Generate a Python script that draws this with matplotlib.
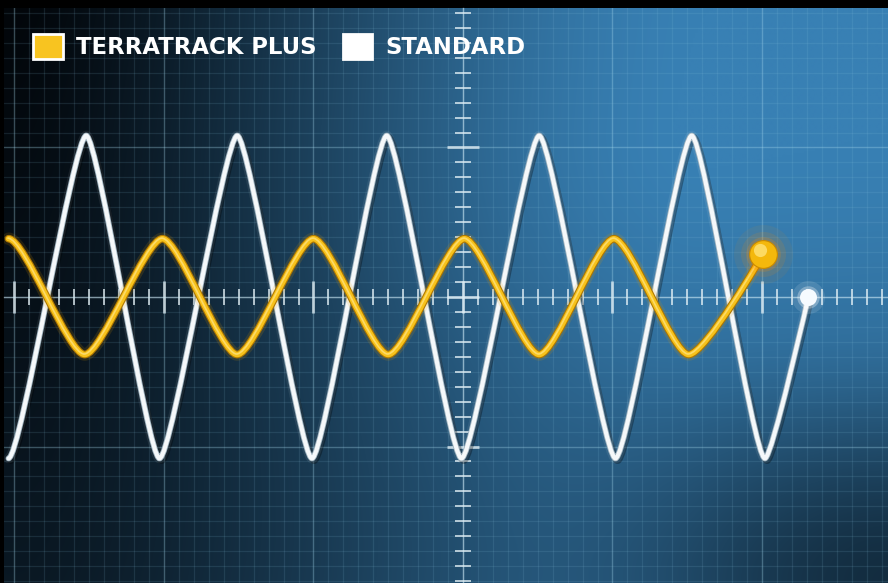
import numpy as np
import matplotlib.pyplot as plt
import matplotlib.patheffects as pe
from matplotlib.path import Path
from matplotlib.patches import PathPatch, Patch
from matplotlib.ticker import MultipleLocator

# Turning points of the two traces, in screen divisions (1 div = one major grid square)
white_x = [-3.04, -2.52, -2.03, -1.51, -1.01, -0.51, -0.01, 0.51, 1.02, 1.53, 2.02]
white_y = [-1.08, 1.08, -1.08, 1.08, -1.08, 1.08, -1.08, 1.08, -1.08, 1.08, -1.08]
white_end = (2.31, 0.0)

yellow_x = [-3.04, -2.53, -2.01, -1.51, -1.00, -0.50, 0.01, 0.51, 1.01, 1.51]
yellow_y = [0.39, -0.385, 0.39, -0.385, 0.39, -0.385, 0.39, -0.385, 0.39, -0.385]
yellow_end = (2.01, 0.29)

labels = ["TERRATRACK PLUS", "STANDARD"]
colors = ["#f8c420", "#ffffff"]

XLIM = (-3.07, 2.843)
YLIM = (-1.913, 1.933)


def trace_path(xs, ys, end, k):
    # smooth the trace between turning points with cubic segments
    pts = list(zip(xs, ys)) + [end]
    verts = [pts[0]]
    codes = [Path.MOVETO]
    for i in range(len(pts) - 1):
        (x0, y0), (x1, y1) = pts[i], pts[i + 1]
        w = x1 - x0
        c2 = (x1, y1) if i == len(pts) - 2 else (x1 - k * w, y1)
        verts += [(x0 + k * w, y0), c2, (x1, y1)]
        codes += [Path.CURVE4] * 3
    return Path(verts, codes)


def smooth(e0, e1, t):
    t = np.clip((t - e0) / (e1 - e0), 0, 1)
    return t * t * (3 - 2 * t)


fig = plt.figure(figsize=(8.88, 5.83), dpi=100, facecolor="black")
ax = fig.add_axes([4 / 888, 0, 884 / 888, 575 / 583])

# screen background: black on the left fading into blue, darker bottom-right corner
u, v = np.meshgrid(np.linspace(0, 1, 400), np.linspace(0, 1, 260))
w = smooth(0.0, 0.8, u) ** 0.85 * (1 - 0.3 * smooth(0.2, 1, v))
w *= 1 - 0.55 * smooth(0.55, 1, v) * smooth(0.55, 1, u)
w += 0.15 * v * (1 - u)
dark = np.array([2, 6, 10]) / 255
blue = np.array([56, 128, 180]) / 255
bg = dark + (blue - dark) * np.clip(w, 0, 1)[..., None]
ax.imshow(bg, extent=[XLIM[0], XLIM[1], YLIM[0], YLIM[1]], origin="upper",
          aspect="auto", zorder=0, interpolation="bilinear")

# graticule
for axis in (ax.xaxis, ax.yaxis):
    axis.set_major_locator(MultipleLocator(1))
    axis.set_minor_locator(MultipleLocator(0.1))
ax.grid(which="major", color="#a9dcf0", alpha=0.32, lw=1.0)
ax.grid(which="minor", color="#8cc6e0", alpha=0.13, lw=0.9)
for s in ["top", "right"]:
    ax.spines[s].set_visible(False)
for s in ["bottom", "left"]:
    ax.spines[s].set_position(("data", 0))
    ax.spines[s].set_color((0.85, 0.93, 0.97, 0.45))
    ax.spines[s].set_linewidth(1.0)
tick_col = (0.9, 0.95, 0.97, 0.75)
ax.tick_params(which="major", direction="inout", length=23, width=2.0,
               color=tick_col, labelbottom=False, labelleft=False)
ax.tick_params(which="minor", direction="inout", length=11, width=1.4,
               color=tick_col)

# standard trace
wp = PathPatch(trace_path(white_x, white_y, white_end, 0.16), fill=False,
               edgecolor="#f5f8fa", lw=3.0, capstyle="round",
               joinstyle="round", zorder=3)
wp.set_path_effects([
    pe.Stroke(offset=(1.5, -1.5), linewidth=5, foreground="black", alpha=0.3),
    pe.Stroke(linewidth=7, foreground="white", alpha=0.07),
    pe.Stroke(linewidth=4.2, foreground="#9fb3bf"),
    pe.Normal(),
])
ax.add_patch(wp)

# terratrack trace
yp = PathPatch(trace_path(yellow_x, yellow_y, yellow_end, 0.22), fill=False,
               edgecolor="#f7c21b", lw=3.9, capstyle="round",
               joinstyle="round", zorder=4)
yp.set_path_effects([
    pe.Stroke(linewidth=9, foreground="#e09a00", alpha=0.15),
    pe.Stroke(linewidth=5.5, foreground="#b07800"),
    pe.Normal(),
    pe.Stroke(offset=(-0.4, 0.4), linewidth=1.2, foreground="#ffe58a", alpha=0.7),
])
ax.add_patch(yp)

# end markers
for s, a in [(1800, 0.07), (1050, 0.12), (620, 0.2)]:
    ax.scatter(*yellow_end, s=s, color="#ff8c00", alpha=a, lw=0, zorder=5)
ax.scatter(*yellow_end, s=400, color="#f4b80c", edgecolor="#c98a00",
           lw=0.8, zorder=6)
ax.scatter(yellow_end[0] - 0.022, yellow_end[1] + 0.022, s=90, color="#ffe37a",
           alpha=0.8, lw=0, zorder=7)
for s, a in [(560, 0.12), (260, 0.3)]:
    ax.scatter(*white_end, s=s, color="white", alpha=a, lw=0, zorder=5)
ax.scatter(*white_end, s=150, color="#f6fbff", lw=0, zorder=6)

ax.set_xlim(*XLIM)
ax.set_ylim(*YLIM)

handles = [Patch(facecolor=colors[0], edgecolor="white", linewidth=2),
           Patch(facecolor=colors[1], edgecolor="white", linewidth=2)]
leg = ax.legend(handles, labels, loc="upper left", ncol=2,
                bbox_to_anchor=(33 / 888, 1 - 34 / 583),
                bbox_transform=fig.transFigure, frameon=False,
                borderpad=0, borderaxespad=0, handlelength=1.3,
                handleheight=1.3, handletextpad=0.6, columnspacing=1.13,
                prop={"family": "DejaVu Sans", "weight": "bold", "size": 16.4})
for t in leg.get_texts():
    t.set_color("white")

fig.savefig("out.png", dpi=100, facecolor="black")
